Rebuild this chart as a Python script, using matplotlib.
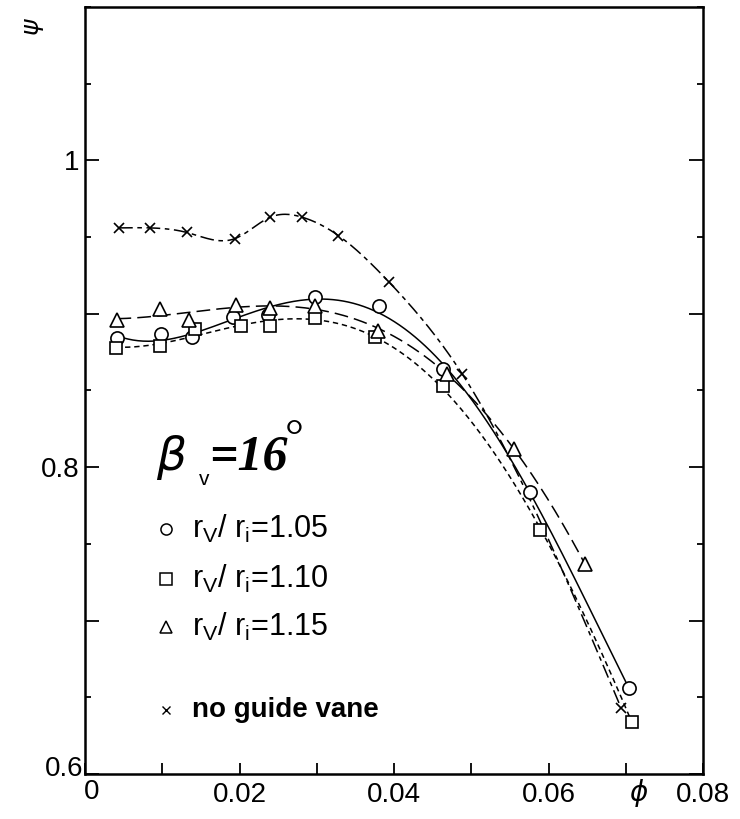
import numpy as np
import matplotlib
matplotlib.use("Agg")
import matplotlib.pyplot as plt
from matplotlib.ticker import MultipleLocator, FixedLocator, FixedFormatter

# ---- data ----
circ_x = [0.0042, 0.0098, 0.0139, 0.0192, 0.0237, 0.0298, 0.0380, 0.0463, 0.0576, 0.0704]
circ_y = [0.884, 0.887, 0.885, 0.898, 0.899, 0.911, 0.905, 0.864, 0.784, 0.656]

sq_x = [0.0040, 0.0097, 0.0142, 0.0202, 0.0239, 0.0298, 0.0375, 0.0463, 0.0589, 0.0708]
sq_y = [0.878, 0.879, 0.890, 0.892, 0.892, 0.897, 0.885, 0.853, 0.759, 0.634]

tri_x = [0.0042, 0.0097, 0.0134, 0.0196, 0.0240, 0.0298, 0.0379, 0.0469, 0.0555, 0.0647]
tri_y = [0.896, 0.903, 0.896, 0.906, 0.904, 0.905, 0.889, 0.861, 0.812, 0.737]

nv_x = [0.0044, 0.0084, 0.0132, 0.0194, 0.0240, 0.0281, 0.0328, 0.0393, 0.0488, 0.0694]
nv_y = [0.956, 0.956, 0.953, 0.949, 0.963, 0.963, 0.951, 0.921, 0.861, 0.643]

x_ticks = [0.0, 0.01, 0.02, 0.03, 0.04, 0.05, 0.06, 0.07, 0.08]
x_ticklabels = ["", "", "0.02", "", "0.04", "", "0.06", "", "0.08"]
y_major = [0.6, 0.7, 0.8, 0.9, 1.0]
y_ticklabels = ["", "", "0.8", "", "1"]

legend_labels = [r"r$_\mathregular{V}$/ r$_\mathregular{i}$=1.05",
                 r"r$_\mathregular{V}$/ r$_\mathregular{i}$=1.10",
                 r"r$_\mathregular{V}$/ r$_\mathregular{i}$=1.15",
                 "no guide vane"]


def natural_spline(x, y, xs):
    x = np.asarray(x, float); y = np.asarray(y, float)
    n = len(x)
    h = np.diff(x)
    A = np.zeros((n, n)); b = np.zeros(n)
    A[0, 0] = 1; A[-1, -1] = 1
    for i in range(1, n - 1):
        A[i, i - 1] = h[i - 1]
        A[i, i] = 2 * (h[i - 1] + h[i])
        A[i, i + 1] = h[i]
        b[i] = 3 * ((y[i + 1] - y[i]) / h[i] - (y[i] - y[i - 1]) / h[i - 1])
    c = np.linalg.solve(A, b)
    out = np.empty_like(xs)
    for k, xv in enumerate(xs):
        i = min(max(np.searchsorted(x, xv) - 1, 0), n - 2)
        d = (c[i + 1] - c[i]) / (3 * h[i])
        bb = (y[i + 1] - y[i]) / h[i] - h[i] * (2 * c[i] + c[i + 1]) / 3
        t = xv - x[i]
        out[k] = y[i] + bb * t + c[i] * t ** 2 + d * t ** 3
    return out


def fit_curve(x, y, deg=4):
    p = np.polyfit(x, y, deg)
    xs = np.linspace(min(x), max(x), 300)
    return xs, np.polyval(p, xs)


fig = plt.figure(figsize=(7.4, 8.19), dpi=100)
ax = fig.add_axes([85 / 740, 1 - 774 / 819, (703 - 85) / 740, (774 - 7) / 819])
ax.set_xlim(0, 0.08)
ax.set_ylim(0.6, 1.1)

lw = 1.1
# curves
xs, ys = fit_curve(circ_x, circ_y, 4)
ax.plot(xs, ys, color="black", lw=lw, ls="-")
xs, ys = fit_curve(sq_x, sq_y, 4)
ax.plot(xs, ys, color="black", lw=lw, ls=(0, (3.5, 2.5)))
xs, ys = fit_curve(tri_x, tri_y, 4)
ax.plot(xs, ys, color="black", lw=lw, ls=(0, (9, 4)))
xs = np.linspace(nv_x[0], nv_x[-1], 400)
ax.plot(xs, natural_spline(nv_x, nv_y, xs), color="black", lw=lw, ls=(0, (9, 3, 3, 3)))

# markers
mk = dict(mfc="white", mec="black", mew=1.2, ls="none", color="black")
ax.plot(circ_x, circ_y, marker="o", ms=9.5, **mk)
ax.plot(sq_x, sq_y, marker="s", ms=8.5, **mk)
ax.plot(tri_x, tri_y, marker="^", ms=9.5, **mk)
ax.plot(nv_x, nv_y, marker="x", ms=7, mew=1.2, ls="none", color="black")

# axes styling
for s in ax.spines.values():
    s.set_linewidth(1.8)
ax.xaxis.set_major_locator(FixedLocator(x_ticks))
ax.xaxis.set_major_formatter(FixedFormatter(x_ticklabels))
ax.yaxis.set_major_locator(FixedLocator(y_major))
ax.yaxis.set_major_formatter(FixedFormatter(y_ticklabels))
ax.yaxis.set_minor_locator(MultipleLocator(0.05))
ax.tick_params(axis="x", direction="in", length=8, width=1.3, top=False,
               labelsize=20, pad=6)
ax.tick_params(axis="y", which="major", direction="in", length=10, width=1.3,
               right=True, labelsize=20, pad=4)
ax.tick_params(axis="y", which="minor", direction="in", length=4, width=1.3,
               right=True)
for lab in ax.get_xticklabels() + ax.get_yticklabels():
    lab.set_family("Liberation Sans")

# corner labels (overlapping in the original)
ax.text(-0.0002, 0.603, "0.6", ha="right", va="center",
        fontsize=20, family="Liberation Sans")
ax.text(0.0009, 0.597, "0", ha="center", va="top",
        fontsize=20, family="Liberation Sans")

# axis symbols
fig.text(34 / 740, 1 - 27 / 819, r"$\psi$", fontsize=18, rotation=90,
         ha="center", va="center")
fig.text(639 / 740, 1 - 793 / 819, r"$\phi$", fontsize=20,
         ha="center", va="center")

# beta annotation
ax.text(0.0092, 0.806, r"$\beta$", fontsize=34, ha="left", va="center",
        family="DejaVu Serif")
ax.text(0.0147, 0.792, "v", fontsize=15, ha="left", va="center",
        family="Liberation Sans")
ax.text(0.0161, 0.806, "=16", fontsize=36, ha="left", va="center",
        family="Liberation Serif", weight="bold", style="italic")
ax.text(0.0259, 0.818, "\u00b0", fontsize=34, ha="left", va="center",
        family="Liberation Serif")

# legend
leg_y = [0.760, 0.727, 0.696, 0.642]
leg_m = ["o", "s", "^", "x"]
for yv, m, lab in zip(leg_y, leg_m, legend_labels):
    if m == "x":
        ax.plot([0.0105], [yv], marker=m, ms=5.5, mew=1.0, color="black", ls="none")
        ax.text(0.0138, yv, lab, fontsize=20, ha="left", va="center",
                family="Liberation Sans", weight="bold")
    else:
        ax.plot([0.0105], [yv], marker=m, ms=8, mfc="white", mec="black", mew=1.1, ls="none")
        ax.text(0.0138, yv, lab, fontsize=22, ha="left", va="center",
                family="Liberation Sans")

fig.savefig("out.png", dpi=100)
